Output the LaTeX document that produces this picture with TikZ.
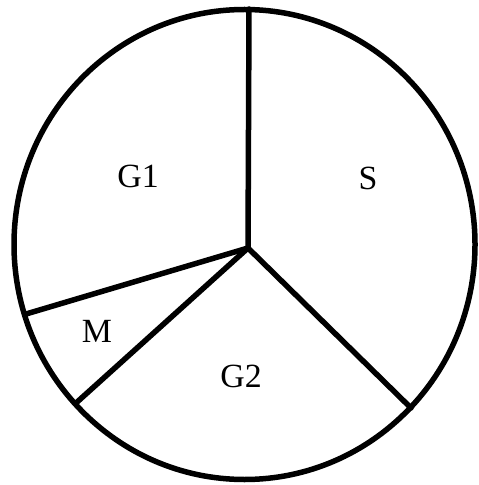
\documentclass[tikz,border=0pt]{standalone}
\usepackage{fontspec}
\setmainfont{Liberation Serif}
\begin{document}
\begin{tikzpicture}[x=1bp,y=-1bp,
  rim/.style={line width=5.5bp},
  spoke/.style={line width=5.5bp,line cap=round},
  lbl/.style={font=\fontsize{34}{40}\selectfont,inner sep=0pt}]
\useasboundingbox (0,0) rectangle (479,485);
\draw[rim] (244.5,244.5) ellipse [x radius=230.5, y radius=235];
\coordinate (c) at (248,248);
\coordinate (top) at (249,9);
\coordinate (lft) at (26,314);
\coordinate (ll) at (76,403);
\coordinate (rt) at (411,408);
\draw[spoke] (top) -- (c);
\draw[spoke] (c) -- (lft);
\draw[spoke] (c) -- (ll);
\draw[spoke] (c) -- (rt);
\node[lbl] (g1) at (138,176) {G1};
\node[lbl] (s) at (368,178) {S};
\node[lbl] (m) at (97,331) {M};
\node[lbl] (g2) at (241,376) {G2};
\end{tikzpicture}
\end{document}
